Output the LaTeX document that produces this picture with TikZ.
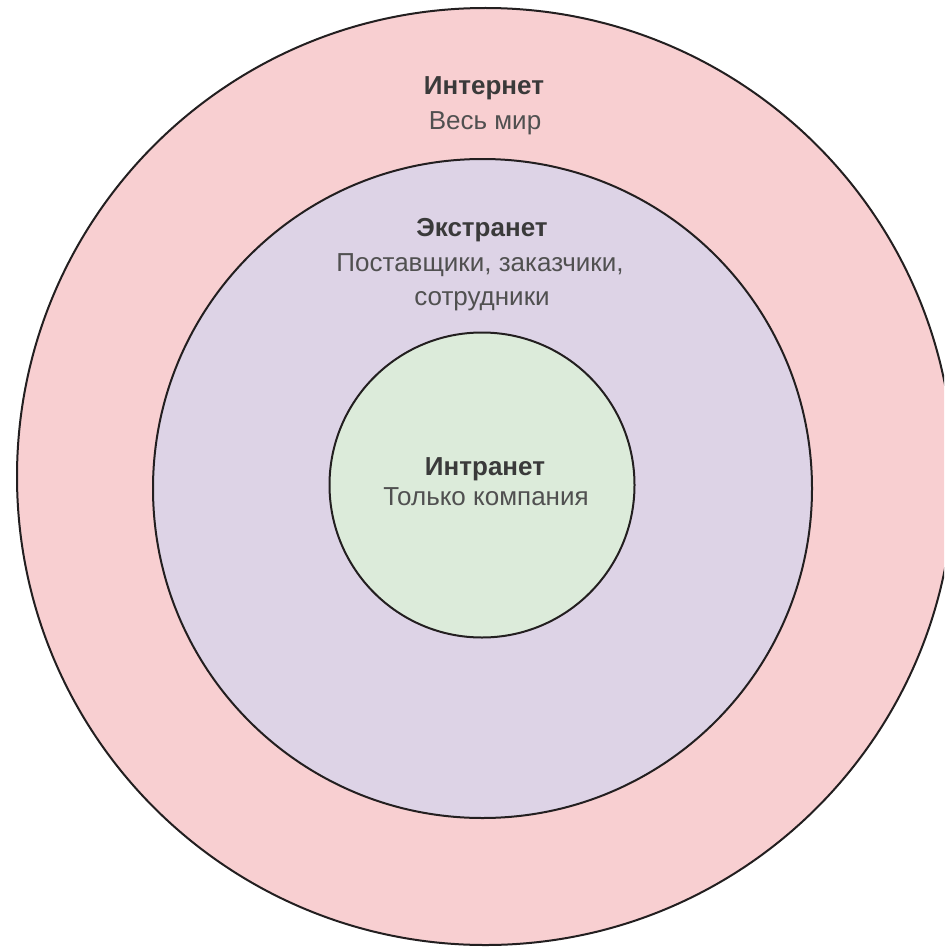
\documentclass[tikz,border=0pt]{standalone}
\usepackage{fontspec}
\setmainfont{Liberation Sans}
\definecolor{outerfill}{HTML}{F8CFD1}
\definecolor{midfill}{HTML}{DDD3E6}
\definecolor{innerfill}{HTML}{DCEBDA}
\definecolor{ringline}{HTML}{231F20}
\definecolor{titletext}{HTML}{3A3A3A}
\definecolor{bodytext}{HTML}{505050}
\begin{document}
\begin{tikzpicture}[x=0.5pt,y=-0.5pt,
  ring/.style={draw=ringline,line width=1pt},
  titlelbl/.style={anchor=base,inner sep=0pt,font=\fontsize{13}{16}\selectfont\bfseries,text=titletext},
  bodylbl/.style={anchor=base,inner sep=0pt,font=\fontsize{13}{16}\selectfont,text=bodytext}]
\useasboundingbox (0,0) rectangle (944,947);
\begin{scope}
\clip (0,0) rectangle (944,947);
\fill[white] (0,0) rectangle (944,947);
\draw[ring,fill=outerfill] (485.5,476.5) circle[radius=468.5];
\draw[ring,fill=midfill] (482.5,488.5) circle[radius=329.5];
\draw[ring,fill=innerfill] (482,485) circle[radius=152.5];
\end{scope}
\node[titlelbl] (inet) at (484,95) {Интернет};
\node[bodylbl] (inetsub) at (485,130) {Весь мир};
\node[titlelbl] (extra) at (482,236) {Экстранет};
\node[bodylbl] (extrasub) at (480,271) {Поставщики, заказчики,};
\node[bodylbl] (extrasub2) at (482,305) {сотрудники};
\node[titlelbl] (intra) at (485,475) {Интранет};
\node[bodylbl] (intrasub) at (486,505) {Только компания};
\end{tikzpicture}
\end{document}
